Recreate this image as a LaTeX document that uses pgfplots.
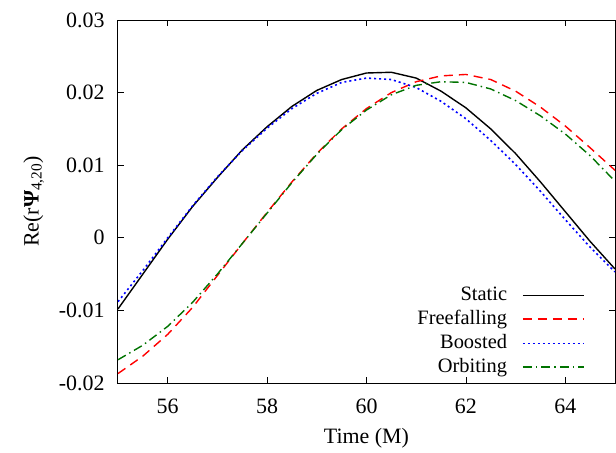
\documentclass[border=0pt]{standalone}
\usepackage{pgfplots}
\pgfplotsset{compat=1.18}
\usepackage{fontspec}
\setmainfont{Liberation Serif}
\begin{document}
\fontsize{22}{26}\selectfont
\begin{tikzpicture}[x=1bp,y=1bp]
\useasboundingbox (-118bp,-70bp) rectangle (498bp,383bp);
\begin{axis}[
  at={(0bp,0bp)}, anchor=south west,
  scale only axis, width=497bp, height=363bp,
  xmin=55, xmax=65, ymin=-0.02, ymax=0.03,
  xtick={56,58,60,62,64}, xticklabels={56,58,60,62,64},
  ytick={-0.02,-0.01,0,0.01,0.02,0.03},
  yticklabels={-0.02,-0.01,0,0.01,0.02,0.03},
  tick align=inside, major tick length=6bp,
  tick style={black, line width=0.8bp},
  axis line style={line width=1bp},
  tick label style={font=\fontsize{22}{26}\selectfont},
  label style={font=\fontsize{22}{26}\selectfont},
  xticklabel style={yshift=-8bp},
  yticklabel style={xshift=-6bp},
  xlabel={Time (M)},
  ylabel={Re(r\textbf{Ψ}\textsubscript{4,20})},
  xlabel style={yshift=0bp},
  ylabel style={yshift=0bp},
  scaled y ticks=false,
  legend style={draw=none, fill=none, at={(0.945,0.008)}, anchor=south east,
    font=\fontsize{20.5}{24}\selectfont, row sep=2.5bp, /tikz/column sep=13bp},
  legend plot pos=right, legend cell align=right,
  legend image post style={line width=1.4bp},
  legend image code/.code={\draw[#1] (0bp,0bp) -- (61bp,0bp);},
]
\addplot[black, line width=1.4bp] coordinates {
(55,-0.0098) (55.5,-0.0050) (56,-0.0002) (56.5,0.0043) (57,0.0083) (57.5,0.0121)
(58,0.0153) (58.5,0.0181) (59,0.0203) (59.5,0.0218) (60,0.0227) (60.5,0.0228)
(61,0.0220) (61.5,0.0202) (62,0.0179) (62.5,0.0150) (63,0.0116) (63.5,0.0077)
(64,0.0036) (64.5,-0.0005) (65,-0.0043)};
\addlegendentry{Static}
\addplot[red, line width=1.4bp, dash pattern=on 9bp off 6bp] coordinates {
(55,-0.0187) (55.5,-0.0163) (56,-0.0133) (56.5,-0.0096) (57,-0.0052) (57.5,-0.0008)
(58,0.0035) (58.5,0.0077) (59,0.0116) (59.5,0.0150) (60,0.0178) (60.5,0.0200)
(61,0.0215) (61.5,0.0223) (62,0.0225) (62.5,0.0218) (63,0.0202) (63.5,0.0180)
(64,0.0154) (64.5,0.0124) (65,0.0093)};
\addlegendentry{Freefalling}
\addplot[blue, line width=1.6bp, dash pattern=on 2bp off 3bp] coordinates {
(55,-0.0088) (55.5,-0.0045) (56,0.0000) (56.5,0.0044) (57,0.0084) (57.5,0.0120)
(58,0.0151) (58.5,0.0178) (59,0.0199) (59.5,0.0214) (60,0.0220) (60.5,0.0218)
(61,0.0207) (61.5,0.0188) (62,0.0164) (62.5,0.0134) (63,0.0101) (63.5,0.0064)
(64,0.0025) (64.5,-0.0013) (65,-0.0047)};
\addlegendentry{Boosted}
\addplot[green!45!black, line width=1.4bp, dash pattern=on 9bp off 4bp on 1.5bp off 4bp] coordinates {
(55,-0.0168) (55.5,-0.0148) (56,-0.0122) (56.5,-0.0089) (57,-0.0050) (57.5,-0.0008)
(58,0.0034) (58.5,0.0076) (59,0.0115) (59.5,0.0149) (60,0.0176) (60.5,0.0197)
(61,0.0210) (61.5,0.0215) (62,0.0214) (62.5,0.0205) (63,0.0189) (63.5,0.0168)
(64,0.0143) (64.5,0.0113) (65,0.0078)};
\addlegendentry{Orbiting}
\end{axis}
\end{tikzpicture}
\end{document}
